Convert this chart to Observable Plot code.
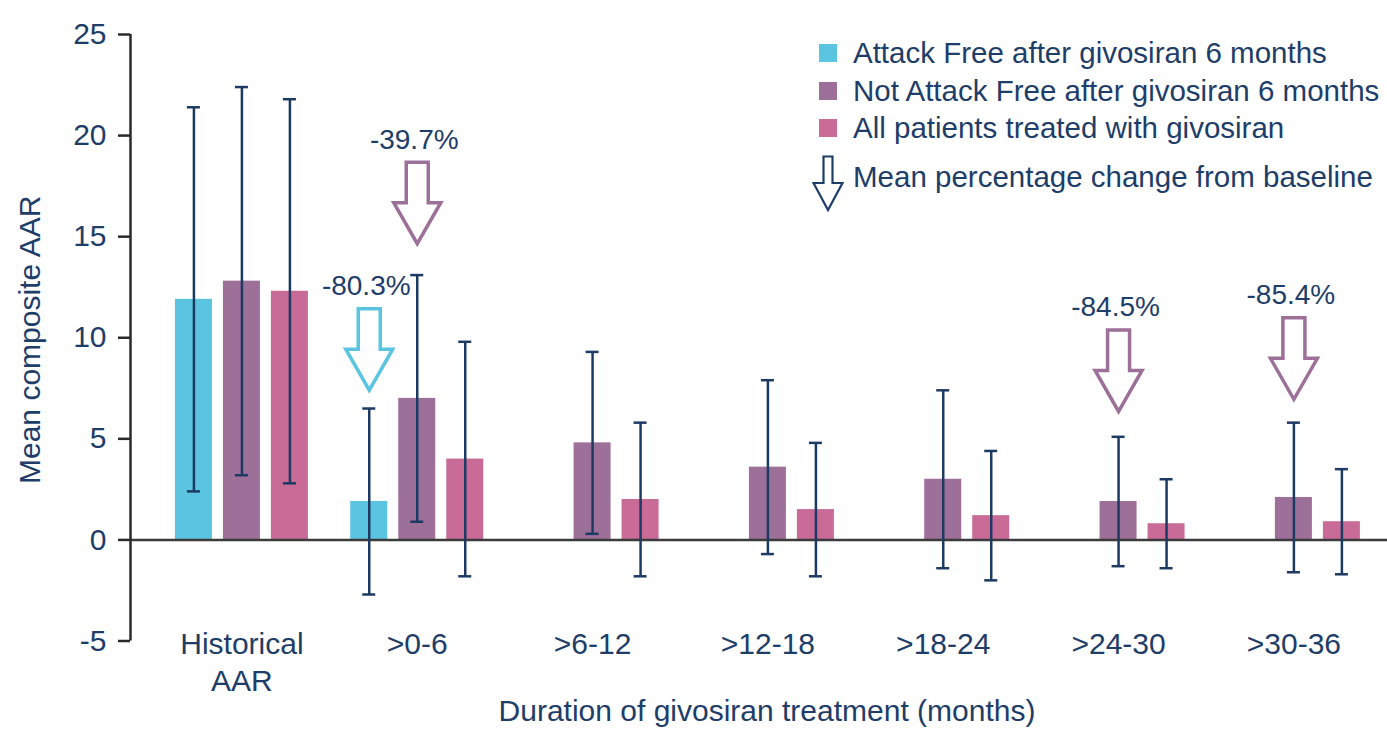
<!DOCTYPE html>
<html>
<head>
<meta charset="utf-8">
<script src="https://cdn.jsdelivr.net/npm/d3@7"></script>
<script src="https://cdn.jsdelivr.net/npm/@observablehq/plot@0.6"></script>
<style>
  body { margin: 0; background: #fff; font-family: "Liberation Sans", Arial, sans-serif; }
  #chart { position: relative; width: 1387px; height: 733px; overflow: hidden; }
  .legend { position: absolute; left: 0; top: 0; color: #1e3d68; font-size: 29.5px; white-space: nowrap; }
  .legend .item { position: absolute; display: flex; align-items: center; height: 36px; }
  .legend .sw { width: 18px; height: 18px; margin-right: 16px; }
  .legend svg { position: absolute; }
</style>
</head>
<body>
<div id="chart"></div>
<script>
// Treatment-duration groups (x axis) and their printed tick labels
const groups = ["Historical AAR", ">0-6", ">6-12", ">12-18", ">18-24", ">24-30", ">30-36"];
const groupLabels = ["Historical\nAAR", ">0-6", ">6-12", ">12-18", ">18-24", ">24-30", ">30-36"];

// Patient series
const seriesNames = [
  "Attack Free after givosiran 6 months",
  "Not Attack Free after givosiran 6 months",
  "All patients treated with givosiran"
];
const seriesColors = ["#5bc4e0", "#9c7098", "#c96b97"];

// Mean composite AAR with error-bar limits, one value per group (null = not reported)
const attackFreeMean = [11.9, 1.9, null, null, null, null, null];
const attackFreeLow  = [2.4, -2.7, null, null, null, null, null];
const attackFreeHigh = [21.4, 6.5, null, null, null, null, null];

const notAttackFreeMean = [12.8, 7.0, 4.8, 3.6, 3.0, 1.9, 2.1];
const notAttackFreeLow  = [3.2, 0.9, 0.3, -0.7, -1.4, -1.3, -1.6];
const notAttackFreeHigh = [22.4, 13.1, 9.3, 7.9, 7.4, 5.1, 5.8];

const allPatientsMean = [12.3, 4.0, 2.0, 1.5, 1.2, 0.8, 0.9];
const allPatientsLow  = [2.8, -1.8, -1.8, -1.8, -2.0, -1.4, -1.7];
const allPatientsHigh = [21.8, 9.8, 5.8, 4.8, 4.4, 3.0, 3.5];

// Mean percentage change from baseline callouts
const changeGroup  = [">0-6", ">0-6", ">24-30", ">30-36"];
const changeSeries = [0, 1, 1, 1];
const changeText   = ["-80.3%", "-39.7%", "-84.5%", "-85.4%"];
const changeLevel  = [12.55, 19.8, 11.5, 12.1];

const yTicks = [-5, 0, 5, 10, 15, 20, 25];

// ---- tidy table built from the arrays ----
const seriesData = [
  [attackFreeMean, attackFreeLow, attackFreeHigh],
  [notAttackFreeMean, notAttackFreeLow, notAttackFreeHigh],
  [allPatientsMean, allPatientsLow, allPatientsHigh]
];
const rows = [];
seriesData.forEach(([mean, low, high], s) => {
  groups.forEach((g, i) => {
    if (mean[i] != null) rows.push({series: s, group: g, mean: mean[i], low: low[i], high: high[i]});
  });
});
const callouts = changeGroup.map((g, i) => ({group: g, series: changeSeries[i], text: changeText[i], level: changeLevel[i]}));

// ---- layout ----
const width = 1387, height = 733;
const marginLeft = 130, marginRight = 0, marginTop = 34, marginBottom = 92.5;
const padOuter = 0.0847, align = 0.8;
const band = d3.scaleBand(groups, [marginLeft, width - marginRight])
  .paddingInner(0).paddingOuter(padOuter).align(align);
const bw = band.bandwidth();
const barWidth = 37, slotStep = 48, capWidth = 13;
const slotOffset = [-slotStep, 0, slotStep];
const barInset = (bw - barWidth) / 2;
const capInset = (bw - capWidth) / 2;
// shift that moves a band-centred rule onto the left edge of the frame
const axisLineShift = marginLeft - (band(groups[0]) + bw / 2);

const navy = "#1e3d68";
const errColor = "#1d3a63";
const labelSize = 30;

// Hollow down arrow drawn below its anchor point
const arrowGap = 21;
const downArrow = {
  draw(ctx) {
    const t = arrowGap + 1.5, hs = 11, hh = 23.5, neck = arrowGap + 42, tip = arrowGap + 83;
    ctx.moveTo(-hs, t);
    ctx.lineTo(hs, t);
    ctx.lineTo(hs, neck);
    ctx.lineTo(hh, neck);
    ctx.lineTo(0, tip);
    ctx.lineTo(-hh, neck);
    ctx.lineTo(-hs, neck);
    ctx.closePath();
  }
};

const marks = [];
seriesNames.forEach((name, s) => {
  const d = rows.filter(r => r.series === s);
  marks.push(Plot.barY(d, {x: "group", y1: 0, y2: "mean", fill: seriesColors[s],
    insetLeft: barInset, insetRight: barInset, dx: slotOffset[s]}));
});
marks.push(Plot.ruleY([0], {stroke: "#3b3b3b", strokeWidth: 2.5}));
seriesNames.forEach((name, s) => {
  const d = rows.filter(r => r.series === s);
  marks.push(Plot.ruleX(d, {x: "group", y1: "low", y2: "high", stroke: errColor, strokeWidth: 2.5, dx: slotOffset[s]}));
  marks.push(Plot.tickY(d, {x: "group", y: "low", stroke: errColor, strokeWidth: 2.5,
    insetLeft: capInset, insetRight: capInset, dx: slotOffset[s]}));
  marks.push(Plot.tickY(d, {x: "group", y: "high", stroke: errColor, strokeWidth: 2.5,
    insetLeft: capInset, insetRight: capInset, dx: slotOffset[s]}));
});
[0, 1, 2].forEach(s => {
  const d = callouts.filter(c => c.series === s);
  if (!d.length) return;
  marks.push(Plot.dot(d, {x: "group", y: "level", symbol: downArrow, r: 5,
    stroke: seriesColors[s], fill: "white", strokeWidth: 3.5, dx: slotOffset[s]}));
  marks.push(Plot.text(d, {x: "group", y: "level", text: "text", fill: navy, fontSize: 28,
    dx: slotOffset[s] - 3}));
});
// y axis: vertical line, ticks and labels
marks.push(Plot.ruleX([groups[0]], {x: d => d, stroke: "#2a2a2a", strokeWidth: 2.5, dx: axisLineShift}));
marks.push(Plot.axisY({ticks: yTicks, tickSize: 12, tickPadding: 12, tickFormat: d => String(d),
  stroke: "#2a2a2a", strokeWidth: 2.5, fill: navy, fontSize: labelSize, label: null}));
marks.push(Plot.axisX({tickSize: 0, tickPadding: -13, fill: navy, fontSize: labelSize, lineHeight: 1.23,
  tickFormat: d => groupLabels[groups.indexOf(d)], label: null}));
marks.push(Plot.text(["Duration of givosiran treatment (months)"], {frameAnchor: "bottom", text: d => d,
  fill: navy, fontSize: labelSize, dy: 80, dx: 8}));
marks.push(Plot.text(["Mean composite AAR"], {frameAnchor: "left", text: d => d, rotate: -90,
  textAnchor: "middle", fill: navy, fontSize: labelSize, dx: -100, dy: 2}));

const chart = Plot.plot({
  width, height, marginLeft, marginRight, marginTop, marginBottom,
  style: {fontFamily: "'Liberation Sans', Arial, sans-serif", fontSize: "28px", background: "white"},
  x: {domain: groups, paddingInner: 0, paddingOuter: padOuter, align, round: false},
  y: {domain: [-5, 25], nice: false},
  marks
});

const root = document.getElementById("chart");
root.appendChild(chart);

// Legend
const legend = document.createElement("div");
legend.className = "legend";
seriesNames.forEach((name, s) => {
  const item = document.createElement("div");
  item.className = "item";
  item.style.left = "819px";
  item.style.top = (35.3 + s * 37.5) + "px";
  item.innerHTML = `<div class="sw" style="background:${seriesColors[s]}"></div><span>${name}</span>`;
  legend.appendChild(item);
});
const arrowIcon = document.createElementNS("http://www.w3.org/2000/svg", "svg");
arrowIcon.setAttribute("width", "33");
arrowIcon.setAttribute("height", "57");
arrowIcon.setAttribute("viewBox", "0 0 33 57");
arrowIcon.style.left = "812px";
arrowIcon.style.top = "155px";
arrowIcon.innerHTML = `<path d="M11.5,1.5 H20.5 V28 H30.5 L16,55 L1.5,28 H11.5 Z" fill="white" stroke="${navy}" stroke-width="2.2"/>`;
legend.appendChild(arrowIcon);
const arrowItem = document.createElement("div");
arrowItem.className = "item";
arrowItem.style.left = "853px";
arrowItem.style.top = "159px";
arrowItem.innerHTML = `<span>Mean percentage change from baseline</span>`;
legend.appendChild(arrowItem);
root.appendChild(legend);
</script>
</body>
</html>
